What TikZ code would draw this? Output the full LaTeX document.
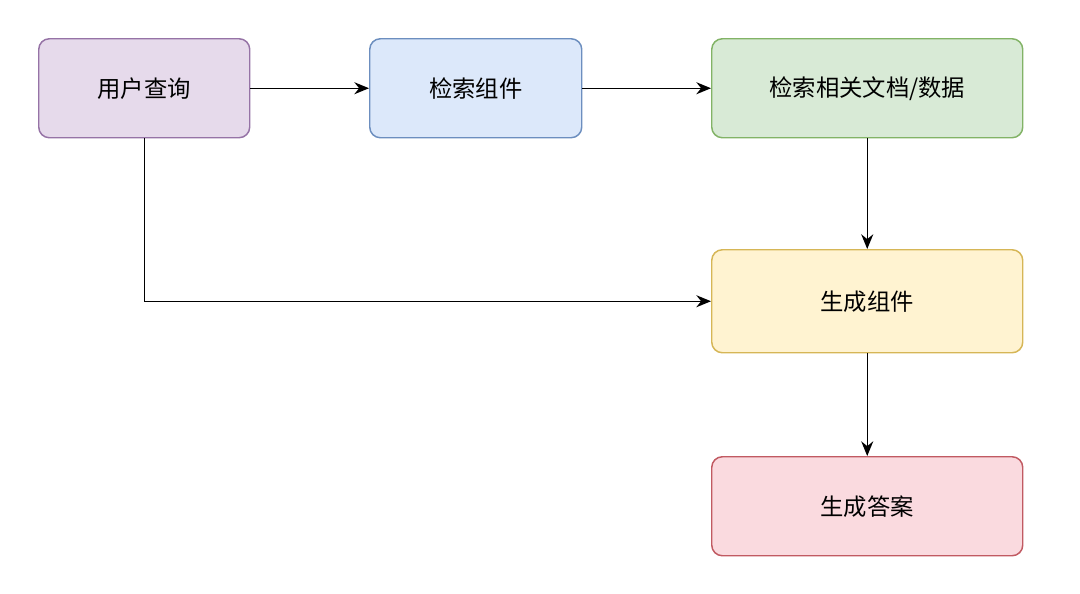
\documentclass[tikz,border=0pt]{standalone}
\usepackage{fontspec}
\setmainfont{Noto Sans CJK SC}
\usetikzlibrary{arrows.meta}
\definecolor{pf}{HTML}{E6DAEB}\definecolor{pd}{HTML}{9673A6}
\definecolor{bf}{HTML}{DCE8FA}\definecolor{bd}{HTML}{6C8EBF}
\definecolor{gf}{HTML}{D8EAD6}\definecolor{gd}{HTML}{82B366}
\definecolor{yf}{HTML}{FFF3D1}\definecolor{yd}{HTML}{D6B656}
\definecolor{rf}{HTML}{FADADF}\definecolor{rd}{HTML}{C15A62}
\begin{document}
\begin{tikzpicture}[x=0.75pt,y=-0.75pt,
  box/.style={draw,rounded corners=8pt,line width=1.1pt,anchor=north west,inner sep=0pt,font=\fontsize{17.5}{21}\selectfont},
  arr/.style={-{Stealth[length=11pt,width=9pt]},line width=1.1pt}]
\fill[white] (0,0) rectangle (1080,593);
\useasboundingbox (0,0) rectangle (1080,593);
\node[box,fill=pf,draw=pd,minimum width=211*0.75pt,minimum height=99*0.75pt] (q) at (38,38) {用户查询};
\node[box,fill=bf,draw=bd,minimum width=212*0.75pt,minimum height=99*0.75pt] (r) at (369,38) {检索组件};
\node[box,fill=gf,draw=gd,minimum width=311*0.75pt,minimum height=99*0.75pt] (d) at (711,38) {检索相关文档/数据};
\node[box,fill=yf,draw=yd,minimum width=311*0.75pt,minimum height=103*0.75pt] (g) at (711,249) {生成组件};
\node[box,fill=rf,draw=rd,minimum width=311*0.75pt,minimum height=99*0.75pt] (a) at (711,456) {生成答案};
\draw[arr] (q) -- (r);
\draw[arr] (r) -- (d);
\draw[arr] (d) -- (g);
\draw[arr] (g) -- (a);
\draw[arr] (q.south) |- (g.west);
\end{tikzpicture}
\end{document}
